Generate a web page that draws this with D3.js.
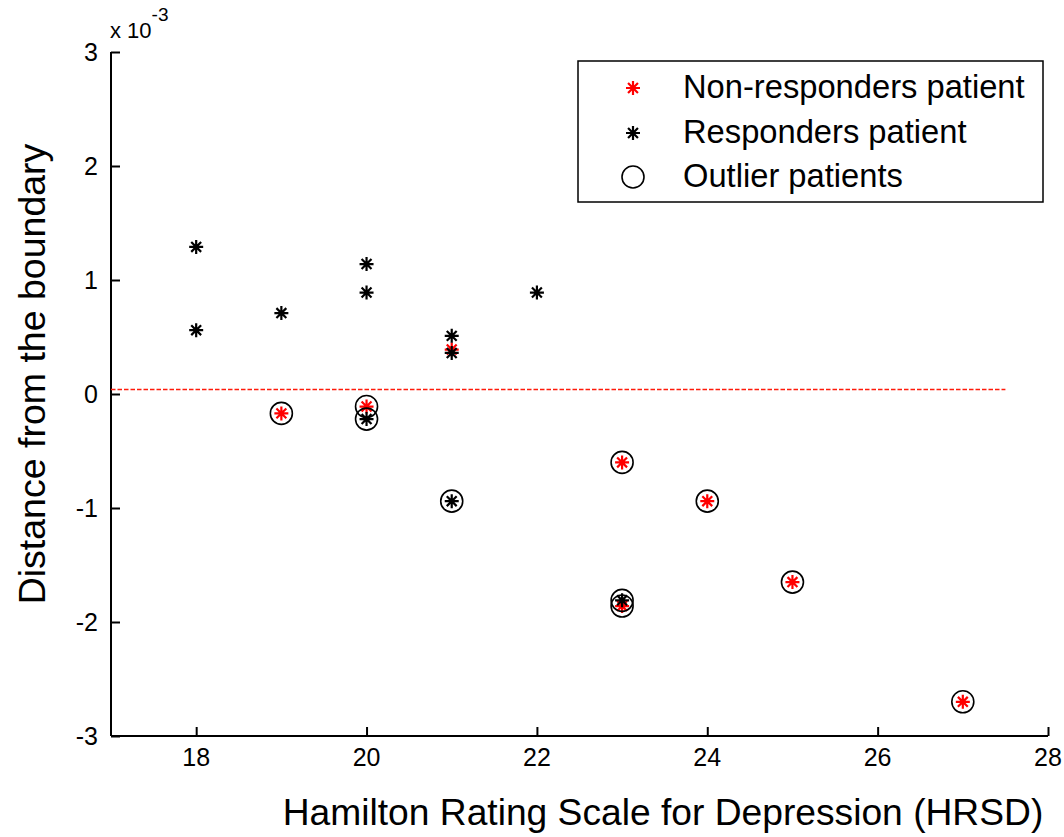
<!DOCTYPE html>
<html>
<head>
<meta charset="utf-8">
<script src="https://cdn.jsdelivr.net/npm/d3@7"></script>
<style>
  html, body { margin: 0; padding: 0; background: #fff; }
  #box { width: 1064px; height: 837px; }
  text { font-family: 'Liberation Sans', Arial, sans-serif; fill: #000; }
</style>
</head>
<body>
<div id="box"></div>
<script>
// values, y in units of 1e-3
const nonRespX = [19, 20, 21, 23, 24, 25, 23, 27];
const nonRespY = [-0.17, -0.11, 0.39, -0.60, -0.94, -1.65, -1.86, -2.70];

const respX = [18, 18, 19, 20, 20, 21, 21, 22, 20, 21, 23];
const respY = [1.29, 0.56, 0.71, 1.14, 0.89, 0.51, 0.36, 0.89, -0.22, -0.94, -1.81];

const outlierX = [19, 20, 20, 21, 23, 24, 25, 23, 23, 27];
const outlierY = [-0.17, -0.11, -0.22, -0.94, -0.60, -0.94, -1.65, -1.81, -1.86, -2.70];

const boundaryX = [17, 27.5];
const boundaryY = [0.04, 0.04];

const xTicks = [18, 20, 22, 24, 26, 28];
const yTicks = [-3, -2, -1, 0, 1, 2, 3];

const legendLabels = ['Non-responders patient', 'Responders patient', 'Outlier patients'];

const width = 1064, height = 837;
const padLeft = 111, padRight = 16, padTop = 52, padBottom = 101;

const svg = d3.select('#box').append('svg')
  .attr('width', width)
  .attr('height', height);

const x = d3.scaleLinear().domain([17, 28]).range([padLeft, width - padRight]);
const y = d3.scaleLinear().domain([-3, 3]).range([height - padBottom, padTop]);

// axes, ticks pointing inward like matlab
const xAxis = d3.axisTop(x).tickValues(xTicks).tickSize(9).tickFormat('');
const yAxis = d3.axisRight(y).tickValues(yTicks).tickSize(9).tickFormat('');

svg.append('g')
  .attr('transform', `translate(0,${y(-3)})`)
  .call(xAxis)
  .call(g => g.selectAll('path, line').attr('stroke', '#000').attr('stroke-width', 2))
  .call(g => g.select('.domain').attr('d', `M${x(17)},0H${x(28)}`));

svg.append('g')
  .attr('transform', `translate(${x(17)},0)`)
  .call(yAxis)
  .call(g => g.selectAll('path, line').attr('stroke', '#000').attr('stroke-width', 2))
  .call(g => g.select('.domain').attr('d', `M0,${y(-3)}V${y(3)}`));

svg.selectAll('.xlab').data(xTicks)
  .join('text')
  .attr('class', 'xlab')
  .attr('x', d => x(d))
  .attr('y', y(-3) + 30)
  .attr('text-anchor', 'middle')
  .style('font-size', '25px')
  .text(d => d);

svg.selectAll('.ylab').data(yTicks)
  .join('text')
  .attr('class', 'ylab')
  .attr('x', x(17) - 13)
  .attr('y', d => y(d) + 9)
  .attr('text-anchor', 'end')
  .style('font-size', '25px')
  .text(d => d);

// exponent label
const expo = svg.append('text')
  .attr('x', 110)
  .attr('y', 38)
  .style('font-size', '22px');
expo.append('tspan').text('x 10');
expo.append('tspan').attr('dy', -17).style('font-size', '19px').text('-3');

// axis titles
svg.append('text')
  .attr('x', 663)
  .attr('y', 825)
  .attr('text-anchor', 'middle')
  .style('font-size', '37.2px')
  .text('Hamilton Rating Scale for Depression (HRSD)');

svg.append('text')
  .attr('transform', `translate(45,374) rotate(-90)`)
  .attr('text-anchor', 'middle')
  .style('font-size', '37.5px')
  .text('Distance from the boundary');

// boundary
svg.append('path')
  .datum(boundaryX.map((d, i) => [d, boundaryY[i]]))
  .attr('d', d3.line().x(d => x(d[0])).y(d => Math.round(y(d[1])) + 0.5))
  .attr('stroke', '#ff1a0a')
  .attr('stroke-width', 1.5)
  .attr('stroke-dasharray', '4.5,2')
  .attr('fill', 'none');

// asterisk marker
function star(sel, color, r) {
  const a = r * Math.SQRT1_2;
  sel.append('path')
    .attr('d', `M${-r},0H${r}M0,${-r}V${r}M${-a},${-a}L${a},${a}M${-a},${a}L${a},${-a}`)
    .attr('stroke', color)
    .attr('stroke-width', 2.2)
    .attr('fill', 'none');
}

const nonResp = nonRespX.map((d, i) => ({ x: d, y: nonRespY[i] }));
const resp = respX.map((d, i) => ({ x: d, y: respY[i] }));
const outliers = outlierX.map((d, i) => ({ x: d, y: outlierY[i] }));

svg.selectAll('.red').data(nonResp)
  .join('g')
  .attr('class', 'red')
  .attr('transform', d => `translate(${x(d.x)},${y(d.y)})`)
  .each(function() { star(d3.select(this), '#f00', 7); });

svg.selectAll('.blk').data(resp)
  .join('g')
  .attr('class', 'blk')
  .attr('transform', d => `translate(${x(d.x)},${y(d.y)})`)
  .each(function() { star(d3.select(this), '#000', 7); });

svg.selectAll('.out').data(outliers)
  .join('circle')
  .attr('class', 'out')
  .attr('cx', d => x(d.x))
  .attr('cy', d => y(d.y))
  .attr('r', 11)
  .attr('fill', 'none')
  .attr('stroke', '#000')
  .attr('stroke-width', 1.6);

// legend
const legend = svg.append('g');
legend.append('rect')
  .attr('x', 578).attr('y', 61)
  .attr('width', 465).attr('height', 141)
  .attr('fill', '#fff')
  .attr('stroke', '#000')
  .attr('stroke-width', 1.5);

const rowY = [88, 133, 177];
const base = [98, 143, 187];
star(legend.append('g').attr('transform', `translate(633,${rowY[0]})`), '#f00', 7);
star(legend.append('g').attr('transform', `translate(633,${rowY[1]})`), '#000', 7);
legend.append('circle')
  .attr('cx', 633).attr('cy', rowY[2]).attr('r', 11)
  .attr('fill', 'none').attr('stroke', '#000').attr('stroke-width', 1.6);

legend.selectAll('.legtxt').data(legendLabels)
  .join('text')
  .attr('class', 'legtxt')
  .attr('x', 683)
  .attr('y', (d, i) => base[i])
  .style('font-size', '32.7px')
  .text(d => d);
</script>
</body>
</html>
